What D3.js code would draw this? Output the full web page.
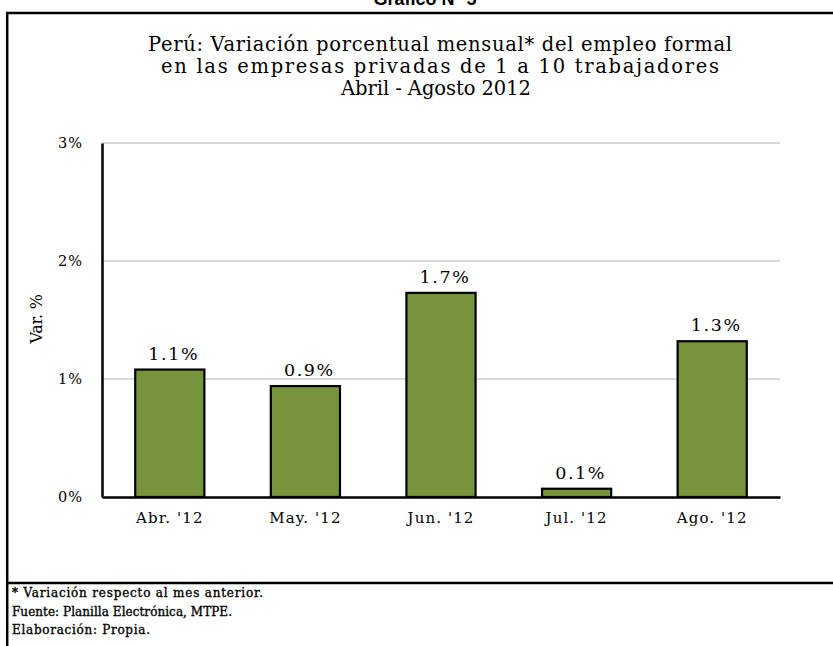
<!DOCTYPE html>
<html>
<head>
<meta charset="utf-8">
<script src="https://cdn.jsdelivr.net/npm/d3@7"></script>
<style>
  html, body { margin: 0; padding: 0; background: #fff; }
  svg { display: block; }
  text { font-family: "DejaVu Serif", serif; fill: #000; }
</style>
</head>
<body>
<svg id="chart" width="833" height="646"></svg>
<script>
const categories = ["Abr. '12", "May. '12", "Jun. '12", "Jul. '12", "Ago. '12"];
const values = [1.08, 0.94, 1.73, 0.07, 1.32];
const valueLabels = ["1.1%", "0.9%", "1.7%", "0.1%", "1.3%"];
const yTicks = [0, 1, 2, 3];
const yTickLabels = ["0%", "1%", "2%", "3%"];
const titleLines = [
  "Perú: Variación porcentual mensual* del empleo formal",
  "en las empresas privadas de 1 a 10 trabajadores",
  "Abril - Agosto 2012"
];
const footnotes = [
  "* Variación respecto al mes anterior.",
  "Fuente: Planilla Electrónica, MTPE.",
  "Elaboración: Propia."
];

const SERIF = "'DejaVu Serif', serif";
const svg = d3.select("#chart");
const W = 833, H = 646;

// Outer frame
svg.append("text")
  .attr("x", 425).attr("y", 5)
  .attr("text-anchor", "middle")
  .style("font-family", "'Liberation Sans', Arial, sans-serif")
  .style("font-weight", "bold").style("font-size", "18px")
  .text("Gráfico N° 5");
svg.append("line").attr("x1", 6).attr("x2", W).attr("y1", 13).attr("y2", 13)
  .attr("stroke", "#000").attr("stroke-width", 2.5);
svg.append("line").attr("x1", 7.2).attr("x2", 7.2).attr("y1", 12).attr("y2", H)
  .attr("stroke", "#000").attr("stroke-width", 2.5);
svg.append("line").attr("x1", 6).attr("x2", W).attr("y1", 583).attr("y2", 583)
  .attr("stroke", "#000").attr("stroke-width", 2.5);

// Title
const titleWidths = [584, 558, 190];
const titleX = [440, 440, 436];
svg.append("g").selectAll("text").data(titleLines).join("text")
  .attr("x", (d, i) => titleX[i]).attr("y", (d, i) => 51 + i * 22)
  .attr("text-anchor", "middle")
  .attr("textLength", (d, i) => titleWidths[i])
  .attr("lengthAdjust", "spacing")
  .style("font-family", SERIF).style("font-size", "19.5px")
  .text(d => d);

// Plot area
const m = { left: 102, right: 780, top: 143, bottom: 497 };
const x = d3.scaleBand().domain(categories).range([m.left, m.right]).paddingInner(0.49).paddingOuter(0.245);
const y = d3.scaleLinear().domain([0, 3]).range([m.bottom, m.top]);

// gridlines
svg.append("g").selectAll("line").data(yTicks.filter(d => d > 0)).join("line")
  .attr("x1", m.left).attr("x2", m.right)
  .attr("y1", d => y(d)).attr("y2", d => y(d))
  .attr("stroke", "#d9d9d9").attr("stroke-width", 2);

// y axis
const yAxis = svg.append("g").attr("transform", `translate(${m.left},0)`)
  .call(d3.axisLeft(y).tickValues(yTicks).tickFormat((d, i) => yTickLabels[i]).tickSize(0).tickPadding(19));
yAxis.select(".domain").attr("stroke", "#000").attr("stroke-width", 2.5);
yAxis.selectAll("text").style("font-family", SERIF).style("font-size", "14.5px").style("letter-spacing", "1px");

// bars
svg.append("g").selectAll("rect").data(values).join("rect")
  .attr("x", (d, i) => x(categories[i]))
  .attr("width", x.bandwidth())
  .attr("y", d => y(d))
  .attr("height", d => y(0) - y(d))
  .attr("fill", "#77933c")
  .attr("stroke", "#000").attr("stroke-width", 2.2);

// x axis
const xAxis = svg.append("g").attr("transform", `translate(0,${m.bottom})`)
  .call(d3.axisBottom(x).tickSize(0).tickPadding(15).tickSizeOuter(0));
xAxis.select(".domain").attr("stroke", "#000").attr("stroke-width", 2.5);
xAxis.selectAll("text").style("font-family", SERIF).style("font-size", "15px").style("letter-spacing", "1.1px");

// value labels
svg.append("g").selectAll("text").data(values).join("text")
  .attr("x", (d, i) => x(categories[i]) + x.bandwidth() / 2)
  .attr("dx", 4)
  .attr("y", d => y(d) - 10)
  .attr("text-anchor", "middle")
  .style("font-family", SERIF)
  .style("font-size", "17.5px").style("letter-spacing", "1.6px")
  .text((d, i) => valueLabels[i]);

// y title
svg.append("text")
  .attr("transform", `translate(42,${(m.top + m.bottom) / 2 - 1})rotate(-90)`)
  .attr("text-anchor", "middle")
  .style("font-family", SERIF)
  .style("font-size", "16px")
  .style("letter-spacing", "-0.3px")
  .text("Var. %");

// footnotes
const footWidths = [251, 220, 138];
svg.append("g").selectAll("text").data(footnotes).join("text")
  .attr("x", 12).attr("y", (d, i) => 597 + i * 18.5)
  .attr("textLength", (d, i) => footWidths[i])
  .attr("lengthAdjust", "spacing")
  .style("font-family", SERIF)
  .style("font-size", "12px")
  .attr("stroke", "#000").attr("stroke-width", 0.35)
  .text(d => d);
</script>
</body>
</html>
